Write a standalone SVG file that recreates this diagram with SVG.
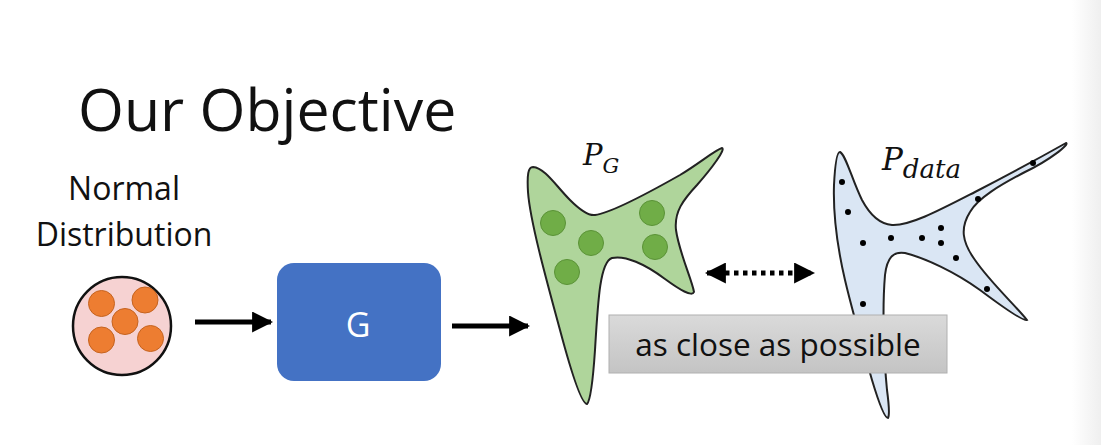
<svg xmlns="http://www.w3.org/2000/svg" width="1101" height="445" viewBox="0 0 1101 445">
<defs>
<linearGradient id="edge" x1="0" y1="0" x2="1" y2="0">
<stop offset="0" stop-color="#ffffff"/>
<stop offset="1" stop-color="#efefef"/>
</linearGradient>
<linearGradient id="grayBox" x1="0" y1="0" x2="0" y2="1">
<stop offset="0" stop-color="#dadada"/>
<stop offset="1" stop-color="#c4c4c4"/>
</linearGradient>
<marker id="head" viewBox="0 0 10 10" refX="9" refY="5" markerWidth="4.2" markerHeight="4.2" orient="auto-start-reverse" markerUnits="strokeWidth">
<path d="M0,0 L10,5 L0,10 Z" fill="#000"/>
</marker>
</defs>
<style>
.txt{font-family:"Open Sans","Lato",sans-serif;fill:#111}
.math{font-family:"DejaVu Serif",serif;font-style:italic;fill:#111}
.orange{fill:#ed7d31;stroke:#c5631f;stroke-width:1}
.gdot{fill:#70ad47;stroke:#5a9236;stroke-width:1}
.bdot{fill:#000}
.conn{stroke:#000;stroke-width:5;fill:none}
</style>
<rect width="1101" height="445" fill="#fff"/>
<rect x="1072" y="0" width="29" height="445" fill="url(#edge)"/>

<g id="title"><text class="txt" x="78" y="131" font-size="59">Our Objective</text></g>

<g id="normal">
<text class="txt" x="124" y="200" font-size="32" text-anchor="middle">Normal</text>
<text class="txt" x="124" y="246" font-size="32" text-anchor="middle">Distribution</text>
<circle cx="122" cy="326" r="49" fill="#f6d2d2" stroke="#111" stroke-width="2.5"/>
<circle class="orange" cx="101.5" cy="303.5" r="13"/>
<circle class="orange" cx="145" cy="300" r="13"/>
<circle class="orange" cx="125" cy="321.5" r="13"/>
<circle class="orange" cx="101.5" cy="340" r="13"/>
<circle class="orange" cx="150.5" cy="338.5" r="13"/>
</g>

<g id="generator">
<rect x="277" y="263" width="164" height="118" rx="17" fill="#4472c4"/>
<text x="358" y="337" font-size="34" text-anchor="middle" fill="#fff" style="font-family:'Open Sans','Lato',sans-serif">G</text>
</g>

<g id="pg">
<path d="M 533,167 C 545,168 556,186 570,200 C 580,210 588,216 595,215 C 612,213 650,192 680,175 C 700,163 715,150 722,148 C 726,149 712,168 697,185 C 683,200 674,212 676,230 C 679,252 692,280 694,292 C 692,297 680,290 665,279 C 645,264 625,255 612,258 C 600,262 598,300 595,350 C 593,380 591,400 587,404 C 582,404 572,375 560,330 C 545,275 530,220 528,192 C 527,175 528,167 533,167 Z" fill="#afd59b" stroke="#222" stroke-width="2"/>
<circle class="gdot" cx="553" cy="223" r="12.5"/>
<circle class="gdot" cx="591" cy="243" r="12.5"/>
<circle class="gdot" cx="567" cy="272" r="12.5"/>
<circle class="gdot" cx="652" cy="213" r="12.5"/>
<circle class="gdot" cx="655" cy="247" r="12.5"/>
<text class="math" x="583" y="165" font-size="29">P<tspan font-size="21" dy="8">G</tspan></text>
</g>

<g id="pdata">
<path d="M 840,152 C 846,155 852,180 862,200 C 870,215 880,224 892,225 C 910,226 940,210 975,192 C 1010,174 1050,152 1066,143 C 1070,144 1050,160 1025,172 C 1000,185 978,198 970,212 C 960,228 962,242 975,260 C 990,282 1015,305 1027,320 C 1024,322 1000,305 980,290 C 955,272 925,258 905,253 C 893,251 887,258 885,275 C 882,310 884,360 887,390 C 889,405 890,415 888,418 C 884,418 878,400 872,380 C 862,345 852,310 845,280 C 838,250 833,215 834,185 C 835,165 837,152 840,152 Z" fill="#dae6f4" stroke="#222" stroke-width="2"/>
<circle class="bdot" cx="842" cy="182" r="3"/>
<circle class="bdot" cx="848" cy="212" r="3"/>
<circle class="bdot" cx="863" cy="243" r="3"/>
<circle class="bdot" cx="891" cy="238" r="3"/>
<circle class="bdot" cx="922" cy="238" r="3"/>
<circle class="bdot" cx="941" cy="228" r="3"/>
<circle class="bdot" cx="941" cy="243" r="3"/>
<circle class="bdot" cx="956" cy="258" r="3"/>
<circle class="bdot" cx="978" cy="199" r="3"/>
<circle class="bdot" cx="1033" cy="163" r="3"/>
<circle class="bdot" cx="987" cy="289" r="3"/>
<circle class="bdot" cx="863" cy="304" r="3"/>
<text class="math" x="882" y="170" font-size="31">P<tspan font-size="26" dy="8">data</tspan></text>
</g>

<g id="label-close">
<rect x="609" y="315" width="338" height="58" fill="url(#grayBox)" stroke="#b0b0b0" stroke-width="1"/>
<text class="txt" x="778" y="356" font-size="31.5" text-anchor="middle">as close as possible</text>
</g>

<g id="connectors">
<line class="conn" x1="195" y1="322" x2="271" y2="322" marker-end="url(#head)"/>
<line class="conn" x1="452" y1="326" x2="528" y2="326" marker-end="url(#head)"/>
<line x1="707" y1="273" x2="813" y2="273" stroke="#000" stroke-width="5" stroke-dasharray="4.5 4.5" marker-start="url(#head)" marker-end="url(#head)"/>
</g>
</svg>
